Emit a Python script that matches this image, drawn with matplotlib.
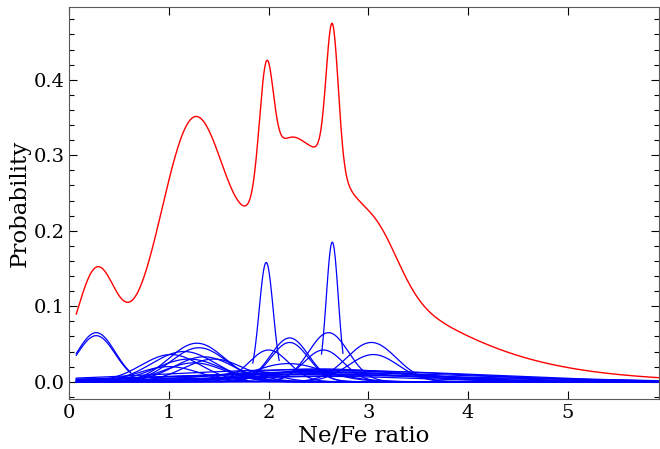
import numpy as np
import matplotlib
matplotlib.use("Agg")
import matplotlib.pyplot as plt
from matplotlib.ticker import MultipleLocator

plt.rcParams["font.family"] = "DejaVu Serif"

# per-measurement Ne/Fe probability curves (gaussian peak position, width, height)
# read off the plot; lo/hi = range each curve is drawn over
centres = [0.27, 0.27, 1.975, 2.638,
           1.28, 1.30, 1.02, 1.15, 1.35, 1.20, 1.45, 1.00, 1.25,
           2.21, 2.21, 2.60, 2.55, 3.03, 3.05, 2.00, 2.20, 2.35, 1.80,
           2.50, 2.70, 2.40, 2.80, 2.60, 2.60,
           2.40, 2.80, 2.60, 2.30, 2.90]
widths = [0.19, 0.19, 0.07, 0.06,
          0.28, 0.28, 0.30, 0.32, 0.30, 0.33, 0.30, 0.30, 0.30,
          0.19, 0.19, 0.20, 0.20, 0.25, 0.25, 0.20, 0.35, 0.35, 0.25,
          0.90, 0.85, 0.95, 0.90, 0.90, 0.90,
          1.50, 1.45, 1.55, 1.50, 1.50]
heights = [0.065, 0.061, 0.158, 0.185,
           0.051, 0.045, 0.036, 0.040, 0.033, 0.030, 0.030, 0.020, 0.025,
           0.058, 0.052, 0.065, 0.042, 0.052, 0.036, 0.042, 0.024, 0.015, 0.015,
           0.017, 0.015, 0.013, 0.012, 0.010, 0.007,
           0.016, 0.014, 0.012, 0.010, 0.008]
lo = [0.07, 0.07, 1.84, 2.53] + [0.07] * 30
hi = [0.62, 0.62, 2.11, 2.75] + [5.92] * 30

x = np.arange(0.07, 5.92, 0.005)

fig = plt.figure(figsize=(6.6, 4.49), dpi=100)
ax = fig.add_axes([0.105, 0.1107, 0.893, 0.873])

total = np.zeros_like(x)
for mu, sig, h, a, b in zip(centres, widths, heights, lo, hi):
    y = h * np.exp(-0.5 * ((x - mu) / sig) ** 2)
    total += y
    keep = (x >= a) & (x <= b)
    ax.plot(x[keep], y[keep], color="blue", lw=0.9)

ax.plot(x, total, color="red", lw=1.0)

ax.set_xlim(0, 5.912)
ax.set_ylim(-0.0233, 0.496)
ax.xaxis.set_major_locator(MultipleLocator(1))
ax.yaxis.set_major_locator(MultipleLocator(0.1))
ax.yaxis.set_minor_locator(MultipleLocator(0.02))
ax.tick_params(which="both", direction="in", top=True, right=True, labelsize=14)
ax.tick_params(which="major", length=5.5, width=0.8)
ax.tick_params(which="minor", length=3.5, width=0.8)
for s in ax.spines.values():
    s.set_color("0.35")
ax.set_xlabel("Ne/Fe ratio", fontsize=16.5, labelpad=2)
ax.set_ylabel("Probability", fontsize=16.5, labelpad=2)

fig.savefig("out.png", dpi=100)
